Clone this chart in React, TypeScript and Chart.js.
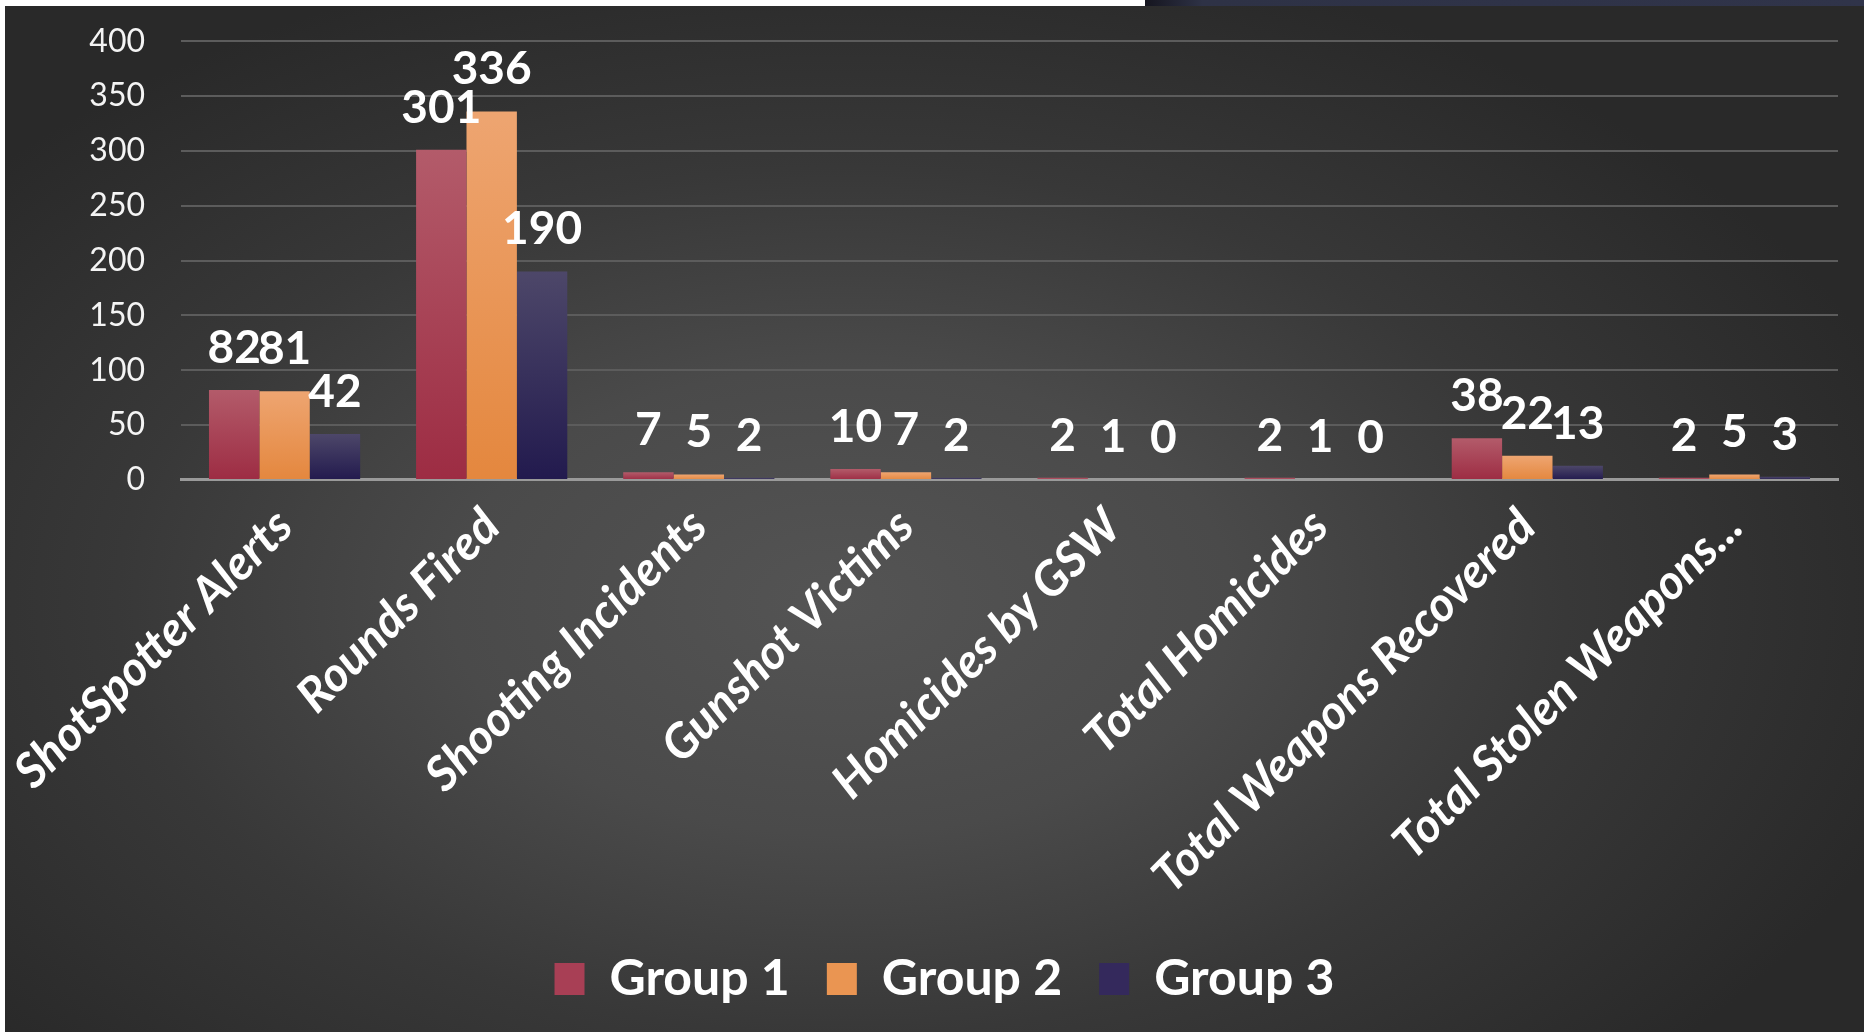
import React, { useEffect, useRef } from "react";
import { Chart, registerables } from "chart.js";

Chart.register(...registerables);

const categories = [
  "ShotSpotter Alerts",
  "Rounds Fired",
  "Shooting Incidents",
  "Gunshot Victims",
  "Homicides by GSW",
  "Total Homicides",
  "Total Weapons Recovered",
  "Total Stolen Weapons...",
];
const seriesNames = ["Group 1", "Group 2", "Group 3"];
const group1 = [82, 301, 7, 10, 2, 2, 38, 2];
const group2 = [81, 336, 5, 7, 1, 1, 22, 5];
const group3 = [42, 190, 2, 2, 0, 0, 13, 3];
const yMin = 0;
const yMax = 400;
const yStep = 50;

const palette = [
  { top: "#b35b6a", bottom: "#9d2c43", solid: "#a83f55" },
  { top: "#eea571", bottom: "#e4873e", solid: "#ea9552" },
  { top: "#4d4769", bottom: "#221a4e", solid: "#34295c" },
];

const FONT = "Lato, 'Open Sans', sans-serif";

function barGradient(idx: number) {
  return (context: any) => {
    const chart = context.chart;
    const c = palette[idx];
    if (context.type !== "data") return c.solid;
    const y = chart.scales && chart.scales.y;
    if (!chart.chartArea || !y) return c.solid;
    const v = context.parsed ? context.parsed.y : context.raw;
    const top = y.getPixelForValue(v);
    const base = y.getPixelForValue(0);
    if (!isFinite(top) || !isFinite(base) || Math.abs(base - top) < 1) return c.bottom;
    const g = chart.ctx.createLinearGradient(0, top, 0, base);
    g.addColorStop(0, c.top);
    g.addColorStop(1, c.bottom);
    return g;
  };
}

const valueLabels = {
  id: "valueLabels",
  afterDatasetsDraw(chart: any) {
    const ctx = chart.ctx;
    ctx.save();
    ctx.fillStyle = "#ffffff";
    ctx.font = `bold 46px ${FONT}`;
    ctx.textAlign = "center";
    ctx.textBaseline = "middle";
    chart.data.datasets.forEach((ds: any, di: number) => {
      const meta = chart.getDatasetMeta(di);
      meta.data.forEach((bar: any, i: number) => {
        ctx.fillText(String(ds.data[i]), bar.x, bar.y - 42);
      });
    });
    ctx.restore();
  },
};

export default function App() {
  const ref = useRef<HTMLCanvasElement | null>(null);

  useEffect(() => {
    if (!ref.current) return;
    const chart = new Chart(ref.current, {
      type: "bar",
      data: {
        labels: categories,
        datasets: [group1, group2, group3].map((d, i) => ({
          label: seriesNames[i],
          data: d,
          backgroundColor: barGradient(i),
          borderWidth: 0,
          categoryPercentage: 0.73,
          barPercentage: 1,
        })),
      },
      options: {
        animation: false,
        responsive: true,
        maintainAspectRatio: false,
        layout: { padding: { top: 35, right: 26, left: 46, bottom: 18 } },
        plugins: {
          tooltip: { enabled: false },
          legend: {
            position: "bottom",
            labels: {
              color: "#ffffff",
              font: { family: FONT, size: 50, weight: "bold", lineHeight: 1 },
              boxWidth: 30,
              boxHeight: 32,
              padding: 37,
              generateLabels: (chart: any) =>
                chart.data.datasets.map((ds: any, i: number) => ({
                  text: ds.label,
                  fillStyle: palette[i].solid,
                  strokeStyle: palette[i].solid,
                  lineWidth: 0,
                  fontColor: "#ffffff",
                  datasetIndex: i,
                  hidden: false,
                })),
            },
          },
        },
        scales: {
          x: {
            grid: { display: false },
            border: { display: true, color: "#9a9a9a", width: 3 },
            ticks: {
              color: "#ffffff",
              autoSkip: false,
              maxRotation: 45,
              minRotation: 45,
              padding: 10,
              font: { family: FONT, size: 48, weight: "bold", style: "italic" },
            },
            afterFit: (scale: any) => {
              scale.height = 437;
              scale.paddingLeft = 0;
              scale.paddingRight = 0;
            },
          },
          y: {
            min: yMin,
            max: yMax,
            border: { display: false },
            grid: {
              color: (c: any) => (c.tick && c.tick.value === 0 ? "#9a9a9a" : "#5c5c5c"),
              lineWidth: 2,
              drawTicks: true,
              tickLength: 20,
              tickColor: "rgba(0,0,0,0)",
            },
            ticks: {
              stepSize: yStep,
              color: "#f4f4f4",
              padding: 16,
              font: { family: FONT, size: 32 },
            },
            afterFit: (scale: any) => {
              scale.width = 130;
            },
          },
        },
      },
      plugins: [valueLabels],
    });
    return () => chart.destroy();
  }, []);

  return (
    <div style={{ position: "fixed", left: 0, top: 0, width: 1864, height: 1032, background: "#ffffff", overflow: "hidden" }}>
      <div
        style={{
          position: "absolute",
          left: 1145,
          top: 0,
          width: 719,
          height: 6,
          background: "linear-gradient(90deg, #15151f 0%, #2e3246 8%, #30344a 100%)",
        }}
      />
      <div
        style={{
          position: "absolute",
          left: 5,
          top: 6,
          width: 1859,
          height: 1026,
          background: "radial-gradient(ellipse 60% 65% at 45% 58%, #545454 0%, #4a4a4a 35%, #383838 65%, #292929 100%)",
        }}
      >
        <canvas ref={ref} />
      </div>
    </div>
  );
}
